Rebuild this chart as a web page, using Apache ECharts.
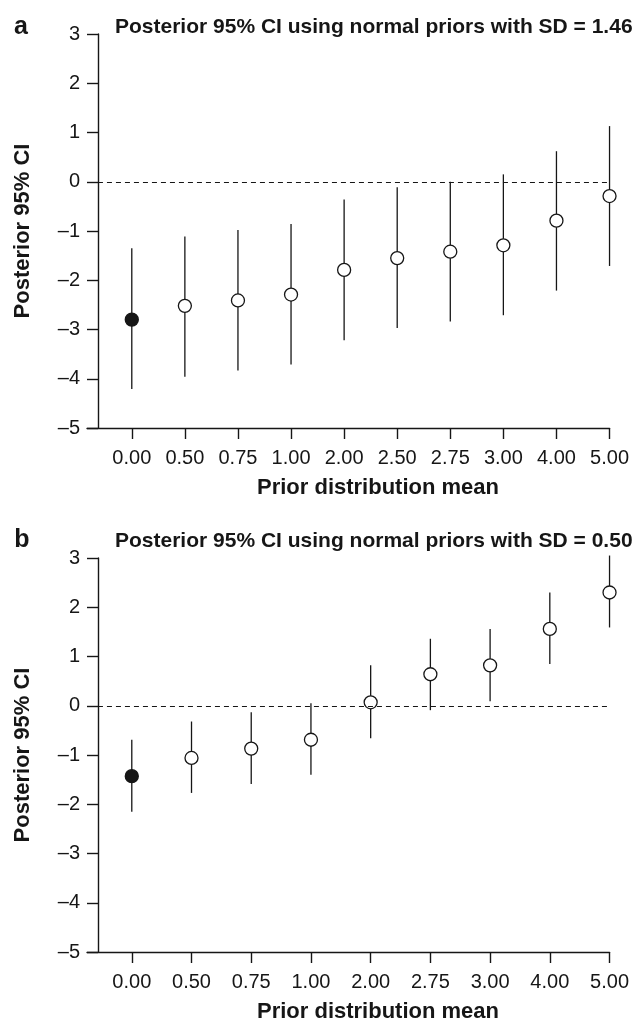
<!DOCTYPE html>
<html>
<head>
<meta charset="utf-8">
<script src="https://cdn.jsdelivr.net/npm/echarts@6/dist/echarts.min.js"></script>
<style>
  html, body { margin: 0; padding: 0; background: #fff; }
  #myChart { width: 632px; height: 1024px; }
</style>
</head>
<body>
<div id="myChart"></div>
<script>
// panel a : prior SD = 1.46
var catsA = ['0.00', '0.50', '0.75', '1.00', '2.00', '2.50', '2.75', '3.00', '4.00', '5.00'];
var meanA = [-2.80, -2.52, -2.41, -2.29, -1.79, -1.55, -1.42, -1.29, -0.79, -0.29];
var lowA  = [-4.21, -3.96, -3.83, -3.71, -3.22, -2.97, -2.84, -2.71, -2.21, -1.71];
var highA = [-1.35, -1.11, -0.98, -0.86, -0.36, -0.11, 0.00, 0.15, 0.62, 1.13];

// panel b : prior SD = 0.50
var catsB = ['0.00', '0.50', '0.75', '1.00', '2.00', '2.75', '3.00', '4.00', '5.00'];
var meanB = [-1.43, -1.06, -0.87, -0.69, 0.07, 0.64, 0.82, 1.56, 2.30];
var lowB  = [-2.15, -1.77, -1.59, -1.40, -0.66, -0.09, 0.09, 0.85, 1.59];
var highB = [-0.69, -0.32, -0.13, 0.05, 0.82, 1.36, 1.56, 2.30, 3.05];

var FONT = "'Liberation Sans', Arial, Helvetica, sans-serif";
var INK = '#161616';

// grid: x axis line from 87 to 612, first category at 132, y axis at 98
var gridLeft = 87, gridRight = 612, firstX = 132, yAxisX = 98;

function xRange(n) {
  var step = (gridRight - firstX) / (n - 1);
  return { min: -(firstX - gridLeft) / step, max: n - 1, axisAt: -(firstX - yAxisX) / step };
}

function idx(n) {
  var a = [];
  for (var i = 0; i < n; i++) a.push(i);
  return a;
}

function makeX(k, cats) {
  var r = xRange(cats.length);
  return {
    gridIndex: k, type: 'value', min: r.min, max: r.max,
    axisLine: { onZero: false, lineStyle: { color: INK, width: 1.4 } },
    axisTick: { customValues: idx(cats.length), length: 11, lineStyle: { color: INK, width: 1.4 } },
    axisLabel: {
      customValues: idx(cats.length), margin: 20,
      formatter: function (v) { return cats[Math.round(v)]; },
      color: INK, fontSize: 20, fontFamily: FONT
    },
    splitLine: { show: false }
  };
}

function makeY(k) {
  return {
    gridIndex: k, type: 'value', min: -5, max: 3, interval: 1, offset: -(yAxisX - gridLeft),
    name: 'Posterior 95% CI', nameLocation: 'middle', nameGap: 64,
    nameTextStyle: { color: INK, fontSize: 22, fontWeight: 'bold', fontFamily: FONT },
    axisLine: { onZero: false, lineStyle: { color: INK, width: 1.4 } },
    axisTick: { length: 11, lineStyle: { color: INK, width: 1.4 } },
    axisLabel: {
      margin: 18, color: INK, fontSize: 20, fontFamily: FONT, padding: [6, 0, 0, 0],
      formatter: function (v) { return String(v).replace('-', '\u2013'); }
    },
    splitLine: { show: false }
  };
}

function makeSeries(k, cats, mean, low, high) {
  var r = xRange(cats.length);
  var bars = cats.map(function (c, i) { return [i, low[i], high[i]]; });
  var pts = cats.map(function (c, i) {
    var p = { value: [i, mean[i]] };
    if (i === 0) p.itemStyle = { color: INK };
    return p;
  });
  return [{
    type: 'custom', xAxisIndex: k, yAxisIndex: k, data: bars, z: 2,
    renderItem: function (params, api) {
      var a = api.coord([api.value(0), api.value(1)]);
      var b = api.coord([api.value(0), api.value(2)]);
      return { type: 'line', shape: { x1: a[0], y1: a[1], x2: b[0], y2: b[1] },
               style: { stroke: INK, lineWidth: 1.3 } };
    },
    markLine: {
      silent: true, symbol: 'none', label: { show: false },
      lineStyle: { color: INK, type: [5, 4], width: 1 },
      data: [[{ coord: [r.axisAt, 0] }, { coord: [r.max, 0] }]]
    }
  }, {
    type: 'scatter', xAxisIndex: k, yAxisIndex: k, data: pts, z: 3,
    symbol: 'circle', symbolSize: 13,
    itemStyle: { color: '#fff', borderColor: INK, borderWidth: 1.3, opacity: 1 }
  }];
}

function txt(s, x, y, size, align) {
  return {
    type: 'text', x: x, y: y,
    style: {
      text: s, fill: INK, font: 'bold ' + size + 'px ' + FONT,
      textAlign: align, align: align, textVerticalAlign: 'middle', verticalAlign: 'middle'
    }
  };
}

var option = {
  backgroundColor: '#fff',
  animation: false,
  grid: [
    { left: gridLeft, width: gridRight - gridLeft, top: 34, height: 394 },
    { left: gridLeft, width: gridRight - gridLeft, top: 558, height: 394 }
  ],
  xAxis: [makeX(0, catsA), makeX(1, catsB)],
  yAxis: [makeY(0), makeY(1)],
  series: makeSeries(0, catsA, meanA, lowA, highA).concat(makeSeries(1, catsB, meanB, lowB, highB)),
  graphic: [
    txt('a', 21, 27, 25, 'center'),
    txt('Posterior 95% CI using normal priors with SD = 1.46', 115, 27, 21, 'left'),
    txt('Prior distribution mean', 378, 488, 22, 'center'),
    txt('b', 22, 540, 25, 'center'),
    txt('Posterior 95% CI using normal priors with SD = 0.50', 115, 541, 21, 'left'),
    txt('Prior distribution mean', 378, 1012, 22, 'center')
  ]
};

var myChart = echarts.init(document.getElementById('myChart'));
myChart.setOption(option);
</script>
</body>
</html>
